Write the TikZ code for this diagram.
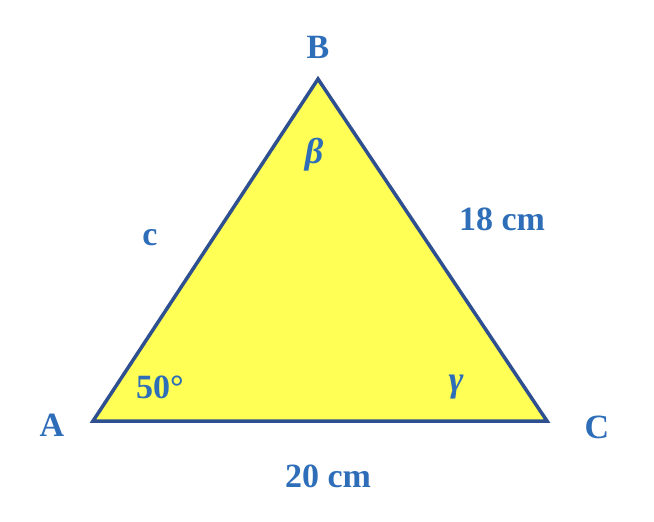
\documentclass[tikz,border=0pt]{standalone}
\usepackage{fontspec}
\setmainfont{Liberation Serif}
\definecolor{txtblue}{HTML}{2E6DB8}
\definecolor{edgeblue}{HTML}{2F5090}
\definecolor{fillyel}{HTML}{FFFF55}
\begin{document}
\begin{tikzpicture}[x=1pt,y=-1pt,
  lbl/.style={text=txtblue,font=\fontsize{34}{36}\selectfont\bfseries,inner sep=0pt},
  glbl/.style={text=txtblue,font=\fontsize{36}{38}\selectfont\bfseries\itshape,inner sep=0pt}]
\useasboundingbox (0,0) rectangle (654,522);
\coordinate (A) at (93,421);
\coordinate (B) at (318,79);
\coordinate (C) at (547,421);
\draw[line width=3.5pt,edgeblue,fill=fillyel,line join=miter] (A) -- (B) -- (C) -- cycle;
\node[lbl] (lB) at (318,47) {B};
\node[lbl] (lA) at (52,425) {A};
\node[lbl] (lC) at (597,427) {C};
\node[glbl] (beta) at (314,155) {β};
\node[glbl] (gamma) at (456,387) {γ};
\node[lbl] (ang) at (160,387) {50°};
\node[lbl] (c) at (150,238) {c};
\node[lbl] (a) at (502,219) {18 cm};
\node[lbl] (b) at (328,476) {20 cm};
\end{tikzpicture}
\end{document}
